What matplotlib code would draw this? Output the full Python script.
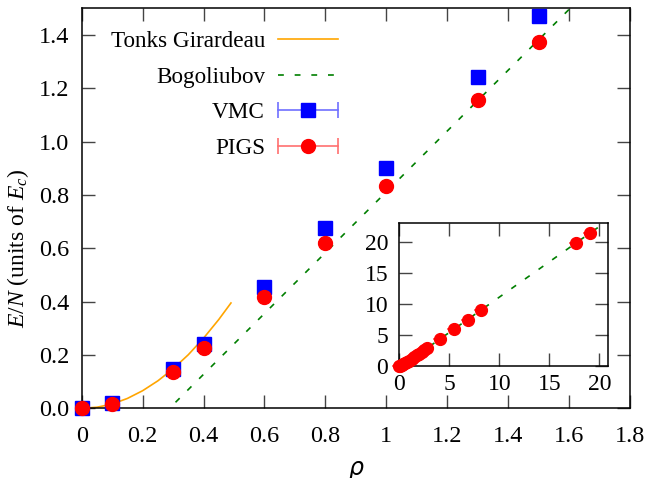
import numpy as np
import matplotlib
matplotlib.use("Agg")
import matplotlib.pyplot as plt
from matplotlib.lines import Line2D
from matplotlib.legend_handler import HandlerLine2D, HandlerTuple

plt.rcParams["font.family"] = ["Liberation Serif", "DejaVu Serif"]
plt.rcParams["mathtext.fontset"] = "custom"
plt.rcParams["mathtext.rm"] = "Liberation Serif"
plt.rcParams["mathtext.it"] = "Liberation Serif:italic"

# main panel data
rho = [0.0, 0.1, 0.3, 0.4, 0.6, 0.8, 1.0, 1.3, 1.5]
e_vmc = [0.0, 0.020, 0.146, 0.241, 0.454, 0.675, 0.901, 1.242, 1.472]
e_pigs = [0.0, 0.016, 0.137, 0.225, 0.419, 0.621, 0.832, 1.157, 1.372]
err_vmc = [0.001, 0.002, 0.002, 0.002, 0.003, 0.003, 0.003, 0.004, 0.004]
err_pigs = [0.001, 0.002, 0.002, 0.002, 0.003, 0.003, 0.003, 0.004, 0.004]

# Tonks-Girardeau curve
tg_rho = [0.0, 0.05, 0.1, 0.15, 0.2, 0.25, 0.3, 0.35, 0.4, 0.45, 0.49]
tg_e = [0.0, 0.004, 0.016, 0.037, 0.066, 0.103, 0.148, 0.201, 0.263, 0.333, 0.395]

# Bogoliubov line (end points)
bog_rho = [0.308, 20.5]
bog_e = [0.0225, 23.05]

# inset data (PIGS, wide density range)
in_rho = [0.0, 0.1, 0.3, 0.4, 0.6, 0.8, 1.0, 1.3, 1.5, 1.75, 2.0, 2.25, 2.5, 2.75,
          4.07, 5.47, 6.87, 8.2, 17.7, 19.04]
in_e = [0.0, 0.016, 0.137, 0.225, 0.419, 0.621, 0.832, 1.157, 1.372, 1.66, 1.95,
        2.23, 2.52, 2.81, 4.3, 5.87, 7.37, 8.98, 19.84, 21.45]
in_err = [0.02] * len(in_rho)

labels = ["Tonks Girardeau", "Bogoliubov", "VMC", "PIGS"]

orange = "#FFA500"
green = "#007F00"
blue = "#0000FF"
red = "#FF0000"
lblue = "#7070FF"
lred = "#FF7070"

fig = plt.figure(figsize=(6.49, 4.78), dpi=100)
ax = fig.add_axes([0.1259, 0.1458, 0.8448, 0.8368])

ax.plot(tg_rho, tg_e, color=orange, lw=1.2, zorder=2)
ax.plot(bog_rho, bog_e, color=green, lw=1.2, dashes=(3.5, 6.5), zorder=2)
ax.errorbar(rho, e_vmc, yerr=err_vmc, fmt="s", color=blue, ms=9.5, ecolor=lblue,
            elinewidth=1.2, capsize=5, capthick=1.2, clip_on=False, zorder=3)
ax.errorbar(rho, e_pigs, yerr=err_pigs, fmt="o", color=red, ms=10, ecolor=lred,
            elinewidth=1.2, capsize=5, capthick=1.2, clip_on=False, zorder=4)

ax.set_xlim(0, 1.8)
ax.set_ylim(0, 1.5)
ax.set_xticks([0, 0.2, 0.4, 0.6, 0.8, 1.0, 1.2, 1.4, 1.6, 1.8])
ax.set_xticklabels(["0", "0.2", "0.4", "0.6", "0.8", "1", "1.2", "1.4", "1.6", "1.8"])
ax.set_yticks([0, 0.2, 0.4, 0.6, 0.8, 1.0, 1.2, 1.4])
ax.set_yticklabels(["0.0", "0.2", "0.4", "0.6", "0.8", "1.0", "1.2", "1.4"])
ax.tick_params(direction="in", length=9.5, width=1, color="#444444",
               top=True, right=True, labelsize=17.5)
ax.tick_params(axis="x", pad=13)
ax.tick_params(axis="y", pad=9)
for s in ax.spines.values():
    s.set_linewidth(1.1)

ax.set_xlabel("ρ", fontfamily="DejaVu Sans", fontstyle="italic", fontsize=17)
ax.xaxis.set_label_coords(0.5, -0.118)
ax.set_ylabel(r"$E/N$ (units of $E_c$)", fontsize=17)
ax.yaxis.set_label_coords(-0.0925, 0.40)

# legend with gnuplot-like layout
tg_h = Line2D([], [], color=orange, lw=1.2)
bog_h = Line2D([], [], color=green, lw=1.2, dashes=(3.5, 6.5))
vmc_bar = Line2D([], [], color=lblue, lw=1.2, marker="|", ms=11, mew=1.2)
vmc_mk = Line2D([], [], ls="none", marker="s", color=blue, ms=9.5)
pigs_bar = Line2D([], [], color=lred, lw=1.2, marker="|", ms=11, mew=1.2)
pigs_mk = Line2D([], [], ls="none", marker="o", color=red, ms=10)
hmap = {vmc_bar: HandlerLine2D(numpoints=2, marker_pad=0),
        pigs_bar: HandlerLine2D(numpoints=2, marker_pad=0),
        tuple: HandlerTuple(ndivide=1)}
ax.legend([tg_h, bog_h, (vmc_bar, vmc_mk), (pigs_bar, pigs_mk)], labels,
          handler_map=hmap, numpoints=1, markerfirst=False, frameon=False,
          fontsize=16.7, handlelength=2.6, handletextpad=0.55, labelspacing=0.62,
          borderpad=0, borderaxespad=0, loc="upper right",
          bbox_to_anchor=(338 / 649, 1 - 31 / 478), bbox_transform=fig.transFigure)

# inset
axi = fig.add_axes([0.6153, 0.2349, 0.3220, 0.2979])
axi.plot(bog_rho, bog_e, color=green, lw=1.2, dashes=(3.5, 6.5), zorder=2)
axi.errorbar(in_rho, in_e, yerr=in_err, fmt="o", color=red, ms=8.5, ecolor=lred,
             elinewidth=1.2, capsize=5, capthick=1.2, clip_on=False, zorder=3)
axi.set_xlim(0, 20.9)
axi.set_ylim(0, 23)
axi.set_xticks([0, 5, 10, 15, 20])
axi.set_yticks([0, 5, 10, 15, 20])
axi.tick_params(direction="in", length=9.5, width=1, color="#444444",
                top=True, right=True, labelsize=17)
axi.tick_params(axis="x", pad=6)
axi.tick_params(axis="y", pad=8)
for s in axi.spines.values():
    s.set_linewidth(1.1)

fig.savefig("out.png", dpi=100)
